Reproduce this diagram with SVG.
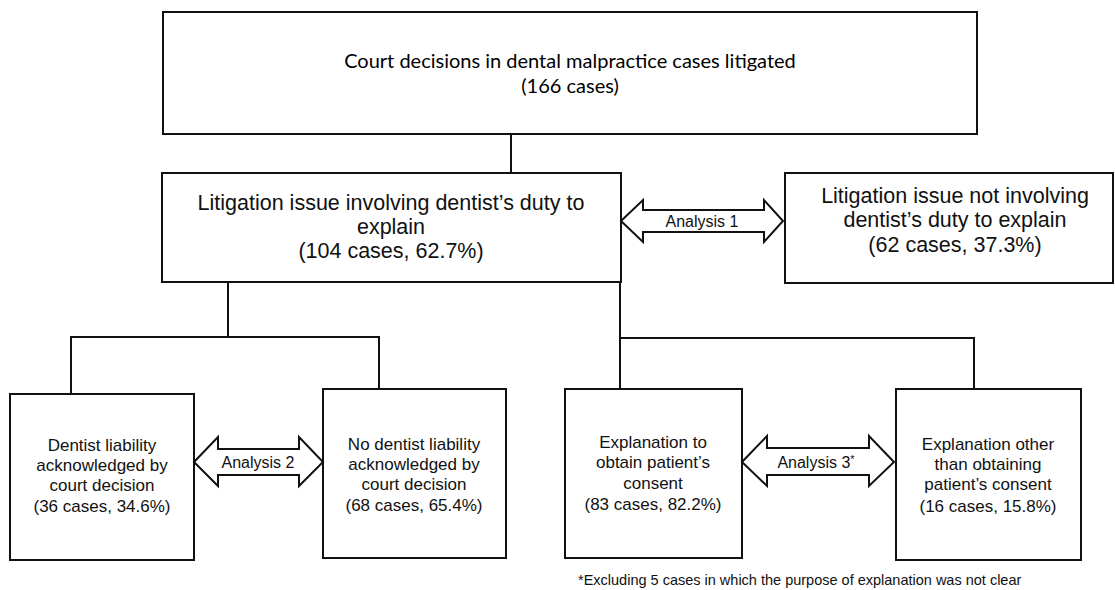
<svg xmlns="http://www.w3.org/2000/svg" width="1115" height="590" viewBox="0 0 1115 590">
<style>
.box{fill:#fff;stroke:#111;stroke-width:2}
.ln{fill:none;stroke:#111;stroke-width:2}
.arr{fill:#fff;stroke:#111;stroke-width:2;stroke-linejoin:miter}
.cal{font-family:Lato,"Liberation Sans",sans-serif;font-size:20px;fill:#000;text-anchor:middle}
.mid{font-family:"Liberation Sans",Arial,sans-serif;font-size:21.5px;fill:#111;text-anchor:middle}
.sm{font-family:"Liberation Sans",Arial,sans-serif;font-size:17px;fill:#111;text-anchor:middle}
.lab{font-family:"Liberation Sans",Arial,sans-serif;font-size:16px;fill:#111;text-anchor:middle}
.fn{font-family:"Liberation Sans",Arial,sans-serif;font-size:14.5px;fill:#111}
</style>
<rect width="1115" height="590" fill="#fff"/>
<g id="connectors">
<line class="ln" x1="511" y1="134" x2="511" y2="173"/>
<polyline class="ln" points="228,282 228,337"/>
<polyline class="ln" points="71,394 71,337 379,337 379,389"/>
<polyline class="ln" points="620,282 620,389"/>
<polyline class="ln" points="620,338 974,338 974,389"/>
</g>
<g id="top">
<rect class="box" x="163" y="12" width="814" height="122"/>
<text class="cal" x="570" y="68">Court decisions in dental malpractice cases litigated</text>
<text class="cal" x="570" y="93">(166 cases)</text>
</g>
<g id="involving">
<rect class="box" x="162" y="173" width="459" height="109"/>
<text class="mid" x="391" y="210">Litigation issue involving dentist’s duty to</text>
<text class="mid" x="391" y="234">explain</text>
<text class="mid" x="391" y="258">(104 cases, 62.7%)</text>
</g>
<g id="not-involving">
<rect class="box" x="785" y="173" width="328" height="110"/>
<text class="mid" x="955" y="203">Litigation issue not involving</text>
<text class="mid" x="955" y="227">dentist’s duty to explain</text>
<text class="mid" x="955" y="252">(62 cases, 37.3%)</text>
</g>
<g id="analysis1">
<polygon class="arr" points="621,221 643,200 643,210 764,210 764,200 783,221 764,242 764,232 643,232 643,242"/>
<text class="lab" x="702" y="227">Analysis 1</text>
</g>
<g id="liability">
<rect class="box" x="10" y="394" width="184" height="166"/>
<text class="sm" x="102" y="451">Dentist liability</text>
<text class="sm" x="102" y="471">acknowledged by</text>
<text class="sm" x="102" y="491">court decision</text>
<text class="sm" x="102" y="512">(36 cases, 34.6%)</text>
</g>
<g id="no-liability">
<rect class="box" x="323" y="389" width="183" height="169"/>
<text class="sm" x="414" y="450">No dentist liability</text>
<text class="sm" x="414" y="470">acknowledged by</text>
<text class="sm" x="414" y="490">court decision</text>
<text class="sm" x="414" y="511">(68 cases, 65.4%)</text>
</g>
<g id="analysis2">
<polygon class="arr" points="194,462 218,437 218,449 299,449 299,437 323,462 299,486 299,475 218,475 218,486"/>
<text class="lab" x="258" y="468">Analysis 2</text>
</g>
<g id="consent">
<rect class="box" x="565" y="389" width="177" height="169"/>
<text class="sm" x="653" y="448">Explanation to</text>
<text class="sm" x="653" y="468">obtain patient’s</text>
<text class="sm" x="653" y="489">consent</text>
<text class="sm" x="653" y="510">(83 cases, 82.2%)</text>
</g>
<g id="other">
<rect class="box" x="896" y="389" width="185" height="171"/>
<text class="sm" x="988" y="450">Explanation other</text>
<text class="sm" x="988" y="470">than obtaining</text>
<text class="sm" x="988" y="490">patient’s consent</text>
<text class="sm" x="988" y="512">(16 cases, 15.8%)</text>
</g>
<g id="analysis3">
<polygon class="arr" points="742,462 767,436 767,448 869,448 869,436 894,462 869,486 869,475 767,475 767,486"/>
<text class="lab" x="816" y="468">Analysis 3<tspan font-size="11" dy="-5">*</tspan></text>
</g>
<text id="footnote" class="fn" x="578" y="585">*Excluding 5 cases in which the purpose of explanation was not clear</text>
</svg>
